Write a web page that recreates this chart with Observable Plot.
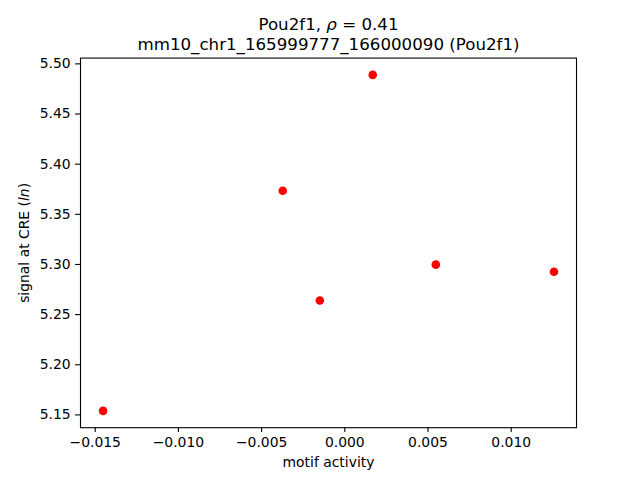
<!DOCTYPE html>
<html>
<head>
<meta charset="utf-8">
<script src="https://cdn.jsdelivr.net/npm/d3@7"></script>
<script src="https://cdn.jsdelivr.net/npm/@observablehq/plot@0.6"></script>
<style>
  html, body { margin: 0; padding: 0; background: #fff; }
  svg { font-family: "DejaVu Sans", sans-serif; display: block; }
</style>
</head>
<body>
<div id="chart"></div>
<script>
const motifActivity = [-0.01453, -0.00373, -0.00150, 0.00168, 0.00547, 0.01257];
const signal = [5.1540, 5.3735, 5.2640, 5.4890, 5.2998, 5.2928];
const xTicks = [-0.015, -0.010, -0.005, 0.000, 0.005, 0.010];
const yTicks = [5.15, 5.20, 5.25, 5.30, 5.35, 5.40, 5.45, 5.50];
const titleLines = ["Pou2f1, ρ = 0.41", "mm10_chr1_165999777_166000090 (Pou2f1)"];
const xLabel = "motif activity";
const yLabel = "signal at CRE (ln)";

const data = motifActivity.map((x, i) => ({x, y: signal[i]}));
const minus = s => s.replace("-", "\u2212");

// matplotlib-like 5% margins
const pad = ([a, b]) => [a - 0.05 * (b - a), b + 0.05 * (b - a)];

const plot = Plot.plot({
  width: 640,
  height: 480,
  marginLeft: 80,
  marginRight: 64,
  marginTop: 57.6,
  marginBottom: 52.8,
  style: {fontFamily: "DejaVu Sans, sans-serif", color: "black", background: "white"},
  x: {domain: pad(d3.extent(motifActivity))},
  y: {domain: pad(d3.extent(signal))},
  marks: [
    Plot.frame({stroke: "black", strokeWidth: 1.1}),
    Plot.axisX({ticks: xTicks, tickSize: 4.9, tickPadding: 4.9, strokeWidth: 1.1,
      tickFormat: d => minus(d.toFixed(3)), fontSize: 13.9, label: null}),
    Plot.axisY({ticks: yTicks, tickSize: 4.9, tickPadding: 4.9, strokeWidth: 1.1,
      tickFormat: d => d.toFixed(2), fontSize: 13.9, label: null}),
    Plot.dot(data, {x: "x", y: "y", r: 4.3, fill: "red", stroke: "none"}),
    Plot.text([titleLines.join("\n")], {frameAnchor: "top", lineAnchor: "bottom", dy: -8.3,
      fontSize: 16.67, lineHeight: 1.2, fill: "black", text: d => d}),
    Plot.text([xLabel], {frameAnchor: "bottom", lineAnchor: "middle", textAnchor: "middle", dy: 35,
      fontSize: 13.9, fill: "black", text: d => d}),
    Plot.text([yLabel], {frameAnchor: "left", lineAnchor: "middle", textAnchor: "middle", dx: -56, rotate: -90,
      fontSize: 13.9, fill: "black", text: d => d})
  ]
});

// Italic math parts
d3.select(plot).selectAll("text, tspan").each(function() {
  const el = d3.select(this);
  if (this.childElementCount > 0) return;
  const t = el.text();
  if (t === titleLines[0]) {
    el.text("");
    el.append("tspan").text("Pou2f1, ");
    el.append("tspan").attr("font-style", "italic").text("ρ");
    el.append("tspan").text(" = 0.41");
  } else if (t === yLabel) {
    el.text("");
    el.append("tspan").text("signal at CRE (");
    el.append("tspan").attr("font-style", "italic").text("ln");
    el.append("tspan").text(")");
  }
});

document.getElementById("chart").appendChild(plot);
</script>
</body>
</html>
